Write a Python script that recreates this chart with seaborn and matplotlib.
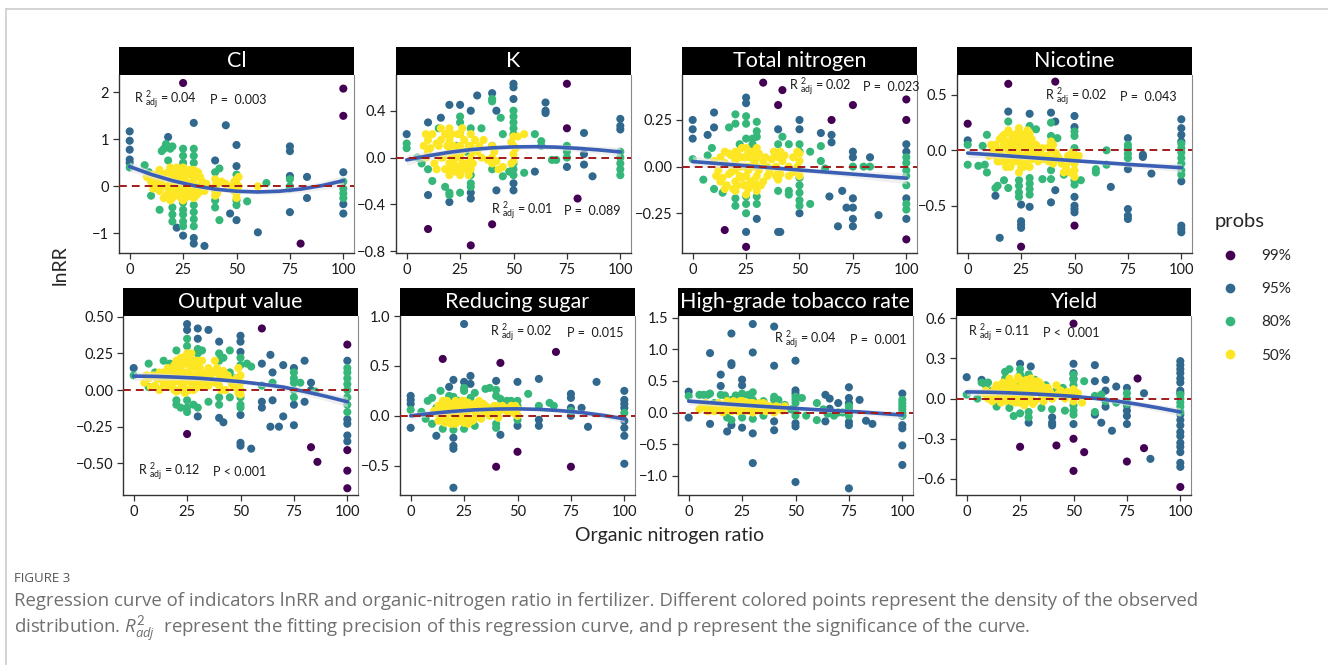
import numpy as np
import pandas as pd
import matplotlib
matplotlib.use("Agg")
import matplotlib.pyplot as plt
from matplotlib.patches import Rectangle
from matplotlib.lines import Line2D
import seaborn as sns

# ---------------- data ----------------
PROB_LEVELS = ["99%", "95%", "80%", "50%"]
PROB_COLORS = ["#440154", "#31688E", "#35B779", "#FDE725"]
X_TICKS = [0, 25, 50, 75, 100]
CURVE_X = [0, 10, 20, 30, 40, 50, 60, 70, 80, 90, 100]

TITLES = ["Cl", "K", "Total nitrogen", "Nicotine",
          "Output value", "Reducing sugar", "High-grade tobacco rate", "Yield"]
R2_TEXT = ["0.04", "0.01", "0.02", "0.02", "0.12", "0.02", "0.04", "0.11"]
P_TEXT = ["P =  0.003", "P =  0.089", "P =  0.023", "P =  0.043",
          "P < 0.001", "P =  0.015", "P =  0.001", "P <  0.001"]

# --- Cl ---
CL_P99 = [(25, [2.2]), (100, [2.08, 1.5]), (80, [-1.22])]
CL_P95 = [(0, [1.17, 0.97, 0.78, 0.57, 0.5]), (18, [1.05]), (22, [-0.88]), (25, [-1.05]),
          (30, [1.35, -1.1, -1.22]), (35, [-1.27]), (40, [0.55]), (45, [1.3]), (47, [-0.58]),
          (50, [0.88, 0.43, -0.72]), (60, [-0.98]), (75, [0.85, 0.75, 0.22, -0.55]),
          (83, [0.2, -0.25]), (100, [0.3, -0.38, -0.58])]
CL_P80 = [(0, [0.4]), (7, [0.45]), (9, [0.3]), (10, [-0.2]), (14, [0.3, -0.5]), (15, [0.75]),
          (16, [0.8]), (17, [0.9]), (18, [0.55]), (19, [0.8]), (20, [0.85, -0.45, -0.6, -0.75]),
          (25, [0.8, 0.65, 0.5, -0.35, -0.5, -0.6, -0.75, -0.85]),
          (30, [0.8, 0.65, 0.5, -0.4, -0.55, -0.7, -0.85]), (40, [0.3, -0.3, -0.45]),
          (42, [0.38, -0.72]), (50, [0.25, -0.3, -0.4]), (55, [-0.32]), (64, [0.07]),
          (75, [0.15, 0.0, -0.05]), (100, [0.1, -0.05, -0.15, -0.25])]
CL_P50 = [(8, [0.2]), (10, [0.1]), (12, [0.05]), (13, [0.2]), (14, [-0.1]), (15, [0.15]),
          (16, [0.0]), (17, [-0.2]), (18, [0.3]), (19, [0.1]), (20, [0.35, 0.2, 0.05, -0.1, -0.25]),
          (21, [0.15]), (22, [-0.05]), (23, [0.25]), (24, [0.0]),
          (25, [0.4, 0.3, 0.2, 0.1, 0.0, -0.1, -0.2, -0.3]), (26, [0.15]), (27, [-0.15]),
          (28, [0.05]), (29, [0.25]), (30, [0.35, 0.25, 0.15, 0.05, -0.05, -0.15, -0.25]),
          (32, [0.0]), (33, [0.2]), (35, [-0.1]), (40, [0.15, 0.0, -0.1, -0.2]), (45, [0.05]),
          (48, [0.0]), (50, [0.15, 0.05, -0.05, -0.15, -0.25]), (60, [0.0])]
CL_P50_MORE = [(11, [0.25, -0.05]), (14, [0.35, 0.05]), (16, [0.25, -0.25]), (18, [0.0, -0.15]),
               (19, [0.4, -0.3]), (21, [0.3, -0.15, 0.0]), (22, [0.4, 0.2]), (23, [0.1, -0.2]),
               (24, [0.3, -0.25]), (26, [0.35, -0.05, -0.25]), (27, [0.25, 0.05]),
               (28, [0.35, -0.2]), (29, [0.0, -0.1]), (31, [0.2, -0.2]), (32, [0.3, -0.15]),
               (33, [-0.05]), (34, [0.1]), (36, [0.05]), (41, [0.05, -0.15]), (43, [0.1]),
               (49, [0.1, -0.1]), (51, [0.0, 0.2])]
CL_CURVE = [0.42, 0.255, 0.12, 0.015, -0.06, -0.105, -0.12, -0.105, -0.06, 0.015, 0.12]
CL_SE = [0.10, 0.08, 0.06, 0.05, 0.045, 0.045, 0.05, 0.06, 0.07, 0.09, 0.11]
CL_YTICKS = [-1, 0, 1, 2]

# --- K ---
K_P99 = [(75, [0.63, 0.25]), (80, [-0.35]), (10, [-0.61]), (40, [-0.57]), (30, [-0.75])]
K_P95 = [(0, [0.2]), (10, [0.3, -0.32]), (16, [0.34]), (20, [0.45, -0.38]), (25, [0.45]),
         (30, [0.4, -0.3, -0.35]), (33, [0.53]), (40, [0.55]), (42, [0.4, -0.28]),
         (50, [0.63, 0.6, 0.5, -0.22, -0.28]), (60, [-0.12]), (65, [0.47, 0.4, 0.38]),
         (75, [-0.08]), (83, [0.21, 0.03, -0.06]), (87, [-0.16]), (100, [0.33, 0.27, 0.24])]
K_P80 = [(0, [0.12, 0.08]), (5, [0.0]), (7, [-0.05]), (10, [-0.1]), (12, [-0.2]), (15, [0.25]),
         (18, [-0.25]), (20, [-0.3, -0.32]), (23, [0.1]), (25, [0.35, 0.3, 0.2, -0.3]),
         (28, [0.05]), (30, [0.25, -0.15, -0.22, -0.25]), (35, [0.25]),
         (40, [0.5, 0.48, 0.1, -0.1]), (44, [0.34]), (45, [0.2, -0.16]), (48, [-0.12]),
         (50, [0.4, 0.35, 0.3, 0.25, 0.2, -0.05, -0.1, -0.15]), (55, [-0.13]), (60, [0.2]),
         (63, [0.14, 0.1]), (68, [-0.02]), (70, [-0.02]), (75, [0.1, 0.05, 0.0]),
         (100, [0.05, 0.0, -0.05, -0.1, -0.15])]
K_P50 = [(8, [0.1]), (10, [0.15, 0.05]), (12, [0.2]), (13, [-0.05]), (15, [0.1]), (16, [0.15]),
         (17, [0.0]), (18, [0.2, -0.1]), (20, [0.25, 0.15, 0.05, -0.05, -0.15]),
         (22, [0.1, -0.05]), (24, [0.2]), (25, [0.2, 0.1, 0.0, -0.1, -0.15]), (27, [0.15]),
         (28, [-0.05]), (30, [0.2, 0.1, 0.0, -0.1]), (32, [0.15]), (33, [0.05]), (35, [0.0]),
         (40, [0.1, 0.0, -0.05]), (42, [-0.03]), (45, [-0.08]), (50, [0.18, 0.1, 0.03, -0.03]),
         (52, [0.18]), (55, [0.2])]
K_P50_MORE = [(9, [0.2, 0.0]), (11, [0.08]), (14, [0.12, -0.1]), (16, [0.0, 0.25]), (19, [0.1]),
              (21, [0.2, -0.1, 0.0]), (23, [0.0, -0.12]), (24, [0.05, -0.08]),
              (26, [0.25, 0.05, -0.05]), (27, [-0.1]), (29, [0.1, -0.15]), (31, [0.05, -0.05]),
              (34, [0.1]), (36, [0.15]), (38, [-0.02]), (41, [0.05]), (43, [-0.1]),
              (49, [0.13, -0.05]), (51, [0.08])]
K_CURVE = [-0.02, 0.015, 0.045, 0.068, 0.083, 0.091, 0.093, 0.089, 0.079, 0.065, 0.048]
K_SE = [0.045, 0.035, 0.025, 0.02, 0.018, 0.018, 0.02, 0.022, 0.026, 0.032, 0.04]
K_YTICKS = [-0.8, -0.4, 0.0, 0.4]

# --- Total nitrogen ---
TN_P99 = [(33, [0.45]), (42, [0.41]), (40, [0.33]), (75, [0.33]), (65, [0.25]),
          (100, [0.36, 0.25, -0.39]), (15, [-0.34]), (25, [-0.43])]
TN_P95 = [(0, [0.25, 0.2, 0.15]), (7, [0.17]), (10, [0.29, 0.21]), (25, [0.37, 0.34, -0.35]),
          (30, [-0.28]), (40, [0.2, -0.35]), (41, [-0.35]), (50, [0.25, 0.2, -0.25]),
          (60, [0.18]), (64, [-0.16]), (65, [0.17, 0.13]), (68, [-0.32]), (70, [-0.13]),
          (72, [-0.22]), (75, [0.08, 0.05, -0.17, -0.22, -0.28, -0.32]), (83, [0.05]),
          (87, [-0.26]), (100, [0.12, 0.08, -0.17, -0.28])]
TN_P80 = [(0, [0.04]), (5, [-0.07]), (7, [0.06]), (9, [0.1]), (10, [-0.12]), (14, [-0.14]),
          (17, [0.21]), (20, [0.28, 0.23, -0.17, -0.21]), (22, [0.12]),
          (25, [0.27, 0.23, 0.15, -0.16, -0.2, -0.25]), (28, [0.15, 0.12]),
          (30, [0.24, 0.19, 0.16, -0.16, -0.2]), (40, [0.12, 0.06, -0.13]), (42, [0.16]),
          (45, [0.12, -0.13, -0.15]), (50, [0.12, 0.08, -0.06, -0.1, -0.14, -0.18, -0.21]),
          (55, [0.08, -0.2]), (60, [0.11, 0.03]), (62, [-0.01]), (75, [0.0]), (80, [0.0]),
          (83, [0.0]), (100, [0.05, 0.02, -0.02, -0.05, -0.1, -0.2, -0.23])]
TN_P50 = [(10, [0.03]), (12, [-0.02]), (13, [0.05]), (14, [-0.06]), (15, [0.02]), (16, [-0.1]),
          (17, [0.07]), (18, [-0.03]), (19, [0.0]), (20, [0.08, 0.03, -0.02, -0.08, -0.13]),
          (22, [0.05, -0.05]), (23, [0.1]), (24, [-0.1]),
          (25, [0.1, 0.05, 0.0, -0.05, -0.1, -0.15]), (27, [0.05, -0.08]), (28, [0.0]),
          (30, [0.1, 0.05, 0.0, -0.05, -0.1, -0.13]), (33, [0.03, -0.08]), (35, [0.0, -0.05]),
          (38, [0.08]), (40, [0.05, -0.02, -0.07]), (42, [0.03]), (45, [0.0, -0.05]),
          (50, [0.07, 0.03, -0.02, -0.05])]
TN_P50_MORE = [(11, [-0.05]), (13, [-0.08]), (15, [0.08, -0.12]), (17, [-0.04]), (18, [0.06]),
               (19, [-0.12]), (21, [0.0, 0.07, -0.1]), (23, [0.0, -0.06]), (24, [0.05]),
               (26, [0.07, -0.02, -0.12]), (27, [0.0]), (28, [0.08, -0.1]), (29, [0.03, -0.07]),
               (31, [0.07, -0.02]), (32, [-0.1]), (34, [0.05]), (36, [-0.03]), (37, [0.04]),
               (39, [0.0, -0.05]), (41, [0.08, -0.04]), (43, [0.06]), (47, [0.05, -0.03]),
               (49, [0.08, 0.0])]
TN_CURVE = [0.027, 0.018, 0.009, 0.0, -0.009, -0.018, -0.027, -0.036, -0.045, -0.054, -0.062]
TN_SE = [0.03, 0.025, 0.018, 0.014, 0.012, 0.012, 0.013, 0.016, 0.02, 0.025, 0.03]
TN_YTICKS = [-0.25, 0.0, 0.25]

# --- Nicotine ---
NIC_P99 = [(0, [0.24]), (19, [0.6]), (41, [0.62]), (25, [-0.87]), (50, [-0.68])]
NIC_P95 = [(0, [0.09]), (13, [-0.41]), (15, [-0.79]), (19, [0.35]),
           (25, [-0.49, -0.64, -0.67, -0.7]), (29, [0.33, -0.51]), (39, [0.34, -0.47]),
           (41, [0.26, -0.36]), (50, [0.31, 0.21, -0.42, -0.5, -0.53, -0.56]), (67, [-0.33]),
           (75, [0.11, -0.17, -0.53, -0.59, -0.62]), (82, [-0.04, -0.06]), (86, [-0.21]),
           (100, [0.28, 0.2, 0.14, 0.08, -0.28, -0.68, -0.71, -0.74])]
NIC_P80 = [(0, [0.05, -0.13]), (5, [-0.14]), (7, [0.04]), (8, [-0.13]), (9, [0.14, -0.2]),
           (13, [-0.34]), (14, [-0.32]), (17, [-0.27]), (19, [0.26, -0.34]),
           (24, [-0.27, -0.32, -0.38, -0.42]), (29, [0.22, -0.25, -0.3, -0.35, -0.4]),
           (32, [0.19]), (35, [-0.26]), (39, [0.25, 0.13, -0.18, -0.26]), (42, [0.11]),
           (45, [-0.22]), (50, [0.17, 0.13, 0.02, -0.27, -0.31]), (53, [-0.27]),
           (60, [-0.17, -0.2]), (65, [0.0, -0.13]), (75, [0.05, 0.02, -0.03, -0.07]),
           (100, [0.06, 0.02, -0.02, -0.07, -0.12, -0.18, -0.22])]
NIC_P50 = [(10, [-0.05]), (12, [0.0]), (13, [0.05]), (14, [-0.1]), (15, [0.1]), (16, [-0.05]),
           (17, [0.14]), (18, [-0.15]), (19, [0.0]), (20, [0.15, 0.05, -0.05, -0.15]),
           (22, [0.1, -0.1]), (24, [0.2, 0.1, 0.0, -0.1, -0.2]), (26, [0.05]), (27, [-0.05]),
           (29, [0.15, 0.05, -0.05, -0.15]), (31, [0.0]), (33, [-0.1]), (35, [0.02]),
           (37, [-0.05]), (39, [0.08, 0.0, -0.08]), (42, [-0.05]), (44, [-0.12]), (45, [-0.2]),
           (47, [-0.05]), (50, [-0.05, -0.12, -0.18, -0.24]), (52, [-0.05])]
NIC_P50_MORE = [(11, [0.05]), (13, [-0.05]), (15, [0.0, -0.1]), (16, [0.12]),
                (17, [0.05, -0.1]), (18, [0.08]), (19, [-0.08, 0.18]), (21, [0.0, 0.1, -0.1]),
                (23, [0.05, -0.05, 0.15]), (25, [0.15, 0.05, -0.05, -0.15]), (26, [-0.15, 0.12]),
                (27, [0.1, -0.12]), (28, [0.0, 0.18]), (30, [0.1, -0.08]), (32, [0.05, -0.05]),
                (34, [-0.02]), (36, [-0.08]), (38, [0.03, -0.1]), (40, [0.05, -0.12]),
                (41, [-0.02]), (43, [-0.08]), (46, [-0.15]), (48, [-0.1, -0.2]), (49, [-0.02])]
NIC_CURVE = [-0.025, -0.038, -0.052, -0.066, -0.08, -0.094, -0.107, -0.12, -0.133, -0.145, -0.157]
NIC_SE = [0.04, 0.03, 0.022, 0.018, 0.015, 0.015, 0.016, 0.02, 0.025, 0.03, 0.038]
NIC_YTICKS = [-0.5, 0.0, 0.5]

# --- Output value ---
OUT_P99 = [(25, [-0.3]), (60, [0.42]), (83, [-0.39]), (86, [-0.49]),
           (100, [0.31, -0.41, -0.55, -0.67])]
OUT_P95 = [(0, [0.15]), (25, [0.45, 0.41]), (30, [0.42, 0.35, -0.18]), (35, [0.41]),
           (40, [0.33, -0.19]), (42, [-0.22]), (50, [0.37, 0.33, 0.26, -0.17, -0.36, -0.38]),
           (55, [-0.4]), (60, [0.18, -0.08, -0.12]), (64, [0.24, -0.25]), (65, [0.12, -0.07]),
           (68, [-0.25]), (70, [0.17, -0.18]), (75, [0.15, -0.1, -0.24]), (80, [0.2, -0.08]),
           (83, [0.05, 0.0]), (100, [0.2, -0.2, -0.23, -0.31, -0.35])]
OUT_P80 = [(0, [0.1]), (7, [0.18, 0.02]), (10, [0.12]), (14, [0.2]), (17, [0.18]),
           (20, [0.27, -0.07, -0.1]), (22, [-0.12]), (25, [0.35, 0.3, -0.07, -0.12, -0.15]),
           (28, [-0.1]), (30, [0.28, 0.25, 0.1, -0.12]), (32, [0.27]), (35, [-0.08]),
           (40, [0.25, 0.2, -0.05, -0.1]), (42, [0.22]), (45, [0.27, 0.12, -0.05]), (47, [0.08]),
           (50, [0.22, 0.17, -0.05, -0.1, -0.12]), (53, [0.18]), (55, [0.16]), (60, [0.03]),
           (65, [0.05]), (75, [0.12, 0.08, 0.05, 0.0, -0.05]), (78, [0.05]), (85, [-0.01]),
           (100, [0.15, 0.12, 0.08, 0.04, 0.0, -0.05, -0.1, -0.15])]
OUT_P50 = [(5, [0.05]), (7, [0.08]), (9, [0.1]), (10, [0.03]), (12, [0.0]), (13, [0.07]),
           (14, [0.12]), (15, [0.03]), (16, [0.15]), (17, [0.05]), (18, [0.1]), (19, [0.0]),
           (20, [0.2, 0.13, 0.06, -0.01]), (22, [0.15, 0.05]), (23, [0.22]), (24, [0.1]),
           (25, [0.25, 0.18, 0.12, 0.06, 0.0]), (27, [0.15, 0.05]), (28, [0.2]), (29, [0.1]),
           (30, [0.2, 0.15, 0.08, 0.02]), (32, [0.12]), (33, [0.05]), (35, [0.15]), (36, [0.08]),
           (38, [0.2]), (40, [0.1, 0.03]), (42, [0.13]), (43, [0.0]), (45, [0.07]), (47, [0.02]),
           (50, [0.1, 0.05, 0.0, -0.03])]
OUT_P50_MORE = [(6, [0.1]), (8, [0.02]), (11, [0.08]), (12, [0.12]), (14, [0.03]), (15, [0.1]),
                (16, [0.06]), (17, [0.13]), (18, [0.02]), (19, [0.17]), (21, [0.1, 0.0, 0.18]),
                (22, [0.22]), (23, [0.03, 0.12]), (24, [0.18, -0.02]), (26, [0.2, 0.08, 0.0]),
                (27, [0.25]), (28, [0.1, 0.0]), (29, [0.18, 0.05]), (31, [0.15, 0.05]),
                (32, [0.2, 0.02]), (34, [0.1]), (35, [0.03]), (37, [0.12]), (38, [0.05]),
                (39, [0.15]), (41, [0.08, 0.0]), (44, [0.1]), (46, [0.04]), (48, [0.08]),
                (49, [0.15, -0.02])]
OUT_CURVE = [0.095, 0.093, 0.088, 0.081, 0.07, 0.057, 0.04, 0.02, -0.01, -0.043, -0.08]
OUT_SE = [0.03, 0.025, 0.02, 0.016, 0.014, 0.014, 0.016, 0.02, 0.024, 0.03, 0.035]
OUT_YTICKS = [-0.5, -0.25, 0.0, 0.25, 0.5]

# --- Reducing sugar ---
RS_P99 = [(15, [0.57]), (42, [0.53]), (68, [0.64]), (40, [-0.51]), (50, [-0.36]), (75, [-0.51])]
RS_P95 = [(0, [0.2, 0.16, 0.12, -0.12]), (12, [-0.2]), (18, [0.29]),
          (20, [0.36, -0.22, -0.3, -0.33, -0.72]), (25, [0.92, 0.34]), (28, [0.4, 0.32]),
          (40, [0.35]), (42, [-0.19]), (50, [0.34, 0.0, -0.1]), (60, [0.37, -0.04, -0.1]),
          (75, [0.22, 0.18, 0.08, 0.0]), (80, [0.08]), (83, [-0.11]), (87, [0.34]),
          (100, [0.25, 0.16, 0.12, 0.08, -0.05, -0.12, -0.2, -0.48])]
RS_P80 = [(0, [0.06]), (5, [0.04]), (7, [-0.03]), (8, [0.15]), (10, [0.18, -0.08]), (12, [0.08]),
          (14, [0.25]), (15, [-0.13]), (18, [0.2]), (20, [0.19, -0.14]), (22, [0.15]),
          (25, [0.28, 0.25, -0.13]), (28, [0.18]), (30, [0.23, -0.1]), (35, [0.27]),
          (37, [0.28]), (40, [0.26, 0.2, -0.08, -0.12]), (42, [0.17]), (45, [0.15]),
          (47, [0.15]), (50, [0.15, 0.1, -0.04]), (55, [0.22]), (60, [0.1]), (65, [0.13]),
          (67, [0.1]), (75, [0.05]), (100, [0.03])]
RS_P50 = [(12, [0.03]), (13, [0.1]), (14, [-0.03]), (15, [0.15]), (16, [-0.07]), (17, [0.05]),
          (18, [0.12]), (19, [-0.08]), (20, [0.1, 0.03, -0.05]), (22, [0.12, -0.03]),
          (24, [0.08]), (25, [0.15, 0.08, 0.0, -0.07]), (27, [0.05]), (28, [-0.05]),
          (30, [0.12, 0.05, -0.02]), (32, [0.08]), (33, [-0.03]), (35, [0.1, 0.03]),
          (38, [0.05]), (40, [0.1, 0.02]), (42, [0.05]), (44, [0.08]), (46, [0.03]),
          (48, [0.05]), (50, [0.07, 0.0])]
RS_P50_MORE = [(11, [0.05]), (13, [-0.05]), (15, [0.08, 0.0]), (16, [0.1]), (17, [-0.05, 0.15]),
               (18, [0.02]), (19, [0.1]), (21, [0.05, -0.08, 0.15]), (23, [0.08, -0.05]),
               (24, [0.15, 0.0]), (26, [0.1, -0.03]), (27, [0.13, -0.08]), (28, [0.08]),
               (29, [0.1, -0.05]), (31, [0.08, 0.0]), (32, [0.15]), (34, [0.05, 0.12]),
               (36, [0.08]), (37, [0.0]), (39, [0.1]), (41, [0.06, -0.02]), (43, [0.1]),
               (45, [0.05]), (47, [0.1]), (49, [0.02, 0.1])]
RS_CURVE = [0.0, 0.025, 0.045, 0.06, 0.068, 0.07, 0.065, 0.052, 0.033, 0.005, -0.03]
RS_SE = [0.035, 0.027, 0.02, 0.016, 0.014, 0.014, 0.016, 0.02, 0.025, 0.03, 0.038]
RS_YTICKS = [-0.5, 0.0, 0.5, 1.0]

# --- High-grade tobacco rate ---
HG_P99 = []
HG_P95 = [(0, [0.33, -0.08]), (10, [0.94, -0.18]), (15, [0.6, 0.42]), (18, [-0.3]),
          (20, [1.25, 0.78, 0.75, -0.2]), (25, [0.52, 0.43, -0.24]), (30, [1.4, 0.95, -0.33, -0.8]),
          (40, [1.36, 0.74, -0.14, -0.28]), (50, [0.82, 0.35, 0.3, -0.17, -0.22, -1.1]),
          (64, [0.28, -0.14]), (66, [0.22, 0.06]), (70, [0.15]),
          (75, [0.4, 0.23, 0.15, -0.15, -0.2, -1.2]), (80, [0.2]), (83, [-0.13]), (86, [-0.18]),
          (100, [0.3, -0.05, -0.2, -0.25, -0.52, -0.83])]
HG_P80 = [(0, [0.26]), (5, [0.28]), (7, [0.28]), (9, [0.28]), (10, [0.3]), (12, [0.15]),
          (15, [0.28]), (17, [0.27]), (18, [-0.08]), (20, [0.2, 0.15, -0.12]), (22, [0.27]),
          (25, [0.3, 0.25, 0.2, -0.08]), (28, [0.28]), (30, [0.32, 0.2, -0.1]), (35, [-0.05, 0.18]),
          (40, [0.25, 0.2]), (42, [0.2]), (45, [0.12]), (48, [0.05]),
          (50, [0.25, 0.2, 0.15, 0.0, -0.05]), (53, [0.23]), (55, [-0.05]), (60, [0.15, -0.12]),
          (63, [0.05]), (65, [-0.02]), (68, [-0.05]), (70, [0.0]), (72, [0.0]),
          (75, [0.1, 0.05, 0.0, -0.05]), (100, [0.2, 0.15, 0.1, 0.05, 0.0, -0.05])]
HG_P50 = [(5, [0.05]), (7, [0.1]), (8, [0.15]), (10, [0.05]), (12, [0.02]), (13, [0.1]),
          (14, [0.15]), (15, [0.05]), (16, [0.0]), (17, [0.12]), (18, [0.05]), (19, [0.15]),
          (20, [0.08, 0.02]), (22, [0.12, 0.05]), (24, [0.18]), (25, [0.13, 0.08, 0.03]),
          (26, [0.17]), (27, [0.1]), (28, [0.03]), (29, [0.15]), (30, [0.1, 0.05, 0.0]),
          (32, [0.12]), (33, [0.05]), (35, [0.1, 0.15]), (37, [0.05]), (38, [0.1]),
          (40, [0.05, 0.0]), (42, [0.08]), (44, [0.03]), (45, [0.1])]
HG_P50_MORE = [(6, [0.08]), (9, [0.1, 0.02]), (11, [0.12]), (12, [0.08]), (14, [0.05]),
               (15, [0.12]), (16, [0.1]), (17, [0.03]), (18, [0.18]), (19, [0.08]),
               (20, [0.15, 0.12]), (21, [0.05, 0.18]), (23, [0.1, 0.02]), (24, [0.05]),
               (25, [0.18]), (26, [0.07]), (27, [0.03, 0.15]), (28, [0.12]), (29, [0.05]),
               (30, [0.15]), (31, [0.08]), (32, [0.03]), (33, [0.15]), (34, [0.08]),
               (36, [0.12, 0.02]), (39, [0.05]), (41, [0.1]), (43, [0.05])]
HG_CURVE = [0.18, 0.155, 0.13, 0.107, 0.085, 0.065, 0.045, 0.027, 0.01, -0.015, -0.04]
HG_SE = [0.06, 0.05, 0.04, 0.032, 0.028, 0.028, 0.03, 0.035, 0.042, 0.05, 0.06]
HG_YTICKS = [-1.0, -0.5, 0.0, 0.5, 1.0, 1.5]

# --- Yield ---
YD_P99 = [(50, [0.56, -0.3, -0.54]), (80, [0.15]), (25, [-0.36]), (42, [-0.35]), (55, [-0.4]),
          (75, [-0.47]), (83, [-0.37]), (100, [-0.66])]
YD_P95 = [(0, [0.16]), (7, [0.14]), (25, [0.26]), (30, [0.24]), (29, [-0.18]),
          (40, [-0.14, -0.18, -0.2]), (50, [0.26, 0.19, 0.15, -0.19]), (60, [0.25, 0.13, -0.12]),
          (63, [-0.18]), (65, [0.14, 0.06, -0.06]), (68, [-0.24]), (70, [0.09]),
          (75, [0.08, -0.05, -0.09, -0.13, -0.19]), (83, [0.04]), (86, [-0.45]),
          (100, [0.28, 0.25, 0.22, 0.19, 0.15, 0.12, 0.06, 0.04, -0.12, -0.16, -0.2, -0.25,
                 -0.28, -0.33, -0.36, -0.4, -0.48, -0.51])]
YD_P80 = [(0, [0.03]), (5, [0.0]), (7, [0.12]), (9, [0.1]), (10, [0.12]), (12, [0.06]),
          (14, [-0.06]), (18, [0.2, 0.15]), (20, [0.22, -0.07]), (22, [-0.13]), (24, [0.1]),
          (25, [0.22, 0.18, -0.11]), (28, [0.15]), (29, [0.18, -0.1, -0.14]), (32, [0.14]),
          (35, [-0.07]), (37, [0.1]), (38, [0.06]), (40, [0.03, -0.08]), (42, [0.06]),
          (45, [0.08]), (46, [-0.09]), (50, [0.18, 0.14, 0.1, 0.06, -0.05, -0.09, -0.12]),
          (55, [0.13]), (60, [0.02, -0.1]), (63, [0.03]), (65, [-0.02]), (70, [-0.03]),
          (75, [0.04, 0.0, -0.04]), (100, [0.03, 0.0, -0.03, -0.06, -0.1])]
YD_P50 = [(8, [0.04]), (10, [0.0]), (12, [0.02]), (13, [0.07]), (15, [0.0]), (16, [0.1]),
          (17, [0.04]), (18, [-0.02]), (19, [0.1]), (20, [0.05, 0.0]), (21, [0.12]), (22, [0.06]),
          (23, [-0.03]), (25, [0.14, 0.08, 0.02, -0.03]), (27, [0.1, 0.04]), (28, [-0.02]),
          (30, [0.12, 0.07, 0.02]), (31, [-0.04]), (32, [0.1]), (33, [0.05]), (34, [0.12]),
          (35, [0.0]), (37, [0.08]), (38, [0.03]), (40, [0.0]), (42, [0.1]), (43, [0.04]),
          (45, [0.02]), (47, [0.05]), (50, [0.03, -0.02]), (52, [0.04]), (54, [-0.03])]
YD_P50_MORE = [(9, [0.06]), (11, [0.04]), (12, [-0.02]), (14, [0.1, 0.02]), (15, [0.06]),
               (16, [-0.03]), (17, [0.12]), (18, [0.06]), (19, [0.02]), (20, [0.15, 0.1]),
               (21, [-0.02, 0.05]), (22, [0.12, 0.0]), (23, [0.08]), (24, [0.04, 0.16]),
               (26, [0.12, 0.0, 0.06]), (27, [-0.05]), (28, [0.14, 0.07]), (29, [0.04]),
               (30, [0.15, -0.02]), (31, [0.1]), (32, [0.05, -0.02]), (33, [0.13]), (34, [0.07]),
               (35, [0.1, 0.04]), (36, [-0.02]), (38, [0.08]), (39, [0.05]), (41, [0.02]),
               (44, [0.06]), (46, [0.0]), (48, [0.03]), (50, [0.07])]
YD_CURVE = [0.05, 0.048, 0.043, 0.036, 0.027, 0.017, 0.002, -0.018, -0.042, -0.07, -0.1]
YD_SE = [0.03, 0.024, 0.018, 0.015, 0.013, 0.013, 0.015, 0.018, 0.022, 0.027, 0.032]
YD_YTICKS = [-0.6, -0.3, 0.0, 0.3, 0.6]

# ---------------- helpers ----------------
def panel_frame(groups_by_level):
    rows = []
    for level, groups in zip(PROB_LEVELS, groups_by_level):
        for x, ys in groups:
            for y in ys:
                rows.append((x, y, level))
    return pd.DataFrame(rows, columns=["ratio", "lnRR", "probs"])

PANEL_DATA = [
    (CL_P99, CL_P95, CL_P80, CL_P50 + CL_P50_MORE),
    (K_P99, K_P95, K_P80, K_P50 + K_P50_MORE),
    (TN_P99, TN_P95, TN_P80, TN_P50 + TN_P50_MORE),
    (NIC_P99, NIC_P95, NIC_P80, NIC_P50 + NIC_P50_MORE),
    (OUT_P99, OUT_P95, OUT_P80, OUT_P50 + OUT_P50_MORE),
    (RS_P99, RS_P95, RS_P80, RS_P50 + RS_P50_MORE),
    (HG_P99, HG_P95, HG_P80, HG_P50 + HG_P50_MORE),
    (YD_P99, YD_P95, YD_P80, YD_P50 + YD_P50_MORE),
]
CURVES = [CL_CURVE, K_CURVE, TN_CURVE, NIC_CURVE, OUT_CURVE, RS_CURVE, HG_CURVE, YD_CURVE]
SES = [CL_SE, K_SE, TN_SE, NIC_SE, OUT_SE, RS_SE, HG_SE, YD_SE]
YTICKS = [CL_YTICKS, K_YTICKS, TN_YTICKS, NIC_YTICKS, OUT_YTICKS, RS_YTICKS, HG_YTICKS, YD_YTICKS]
TICK_DEC = [0, 1, 2, 1, 2, 1, 1, 1]

# layout (pixels): left, top, width, height
W, H = 1328, 665
BOXES = [(119, 75, 235, 178), (396, 75, 235, 178), (682, 75, 235, 178), (957, 75, 235, 178),
         (123, 316, 235, 179), (400, 316, 235, 179), (678, 316, 235, 179), (956, 316, 235, 179)]
YLIMS = [(-1.42, 2.37), (-0.815, 0.705), (-0.463, 0.491), (-0.927, 0.68),
         (-0.716, 0.505), (-0.793, 1.0), (-1.305, 1.527), (-0.72, 0.617)]
# annotation positions (axes fraction): R x, P x, y
ANNOT = [(0.064, 0.387, 0.86), (0.403, 0.715, 0.238), (0.455, 0.770, 0.934), (0.374, 0.694, 0.876),
         (0.064, 0.383, 0.130), (0.383, 0.709, 0.907), (0.409, 0.732, 0.866), (0.050, 0.370, 0.903)]

# ---------------- style ----------------
sns.set_style("ticks")
plt.rcParams["font.family"] = ["Lato", "DejaVu Sans"]
plt.rcParams["mathtext.fontset"] = "custom"
plt.rcParams["mathtext.rm"] = "Lato"
plt.rcParams["mathtext.it"] = "Open Sans:italic"
plt.rcParams["axes.unicode_minus"] = True

fig = plt.figure(figsize=(W / 100, H / 100), dpi=100)
palette = dict(zip(PROB_LEVELS, PROB_COLORS))

for i in range(8):
    l, t, w, h = BOXES[i]
    ax = fig.add_axes([l / W, 1 - (t + h) / H, w / W, h / H])
    df = panel_frame(PANEL_DATA[i])
    sns.scatterplot(data=df, x="ratio", y="lnRR", hue="probs", hue_order=PROB_LEVELS,
                    palette=palette, s=34, edgecolor="none", linewidth=0, legend=False,
                    ax=ax, zorder=2)
    cy = np.array(CURVES[i]); se = np.array(SES[i])
    ax.fill_between(CURVE_X, cy - se, cy + se, color="#e6e6e6", alpha=0.6, lw=0, zorder=3)
    sns.lineplot(x=CURVE_X, y=CURVES[i], color="#3A5FB4", lw=2.6, ax=ax,
                 estimator=None, sort=False, zorder=4)
    ax.axhline(0, color="#A01C1C", lw=1.4, ls=(0, (4, 2.6)), zorder=5)

    ax.set_xlim(-5, 105)
    ax.set_ylim(*YLIMS[i])
    ax.set_xticks(X_TICKS)
    ax.set_xticklabels([str(v) for v in X_TICKS])
    ax.set_yticks(YTICKS[i])
    ax.set_yticklabels([f"{v:.{TICK_DEC[i]}f}".replace("-", "\u2212") for v in YTICKS[i]])
    ax.tick_params(axis="both", labelsize=10.5, length=4, width=0.9, color="#333333",
                   labelcolor="#1a1a1a", pad=3)
    ax.set_xlabel(""); ax.set_ylabel("")
    for s in ["left", "bottom"]:
        ax.spines[s].set_color("#333333"); ax.spines[s].set_linewidth(1.0)
    ax.spines["right"].set_visible(True); ax.spines["right"].set_color("#888888")
    ax.spines["right"].set_linewidth(0.8)
    ax.spines["top"].set_visible(False)

    sh = 28 / h
    ax.add_patch(Rectangle((0, 1), 1, sh, transform=ax.transAxes, facecolor="black",
                           edgecolor="none", clip_on=False, zorder=6))
    ax.text(0.5, 1 + sh / 2, TITLES[i], transform=ax.transAxes, color="white", fontsize=15.5,
            ha="center", va="center", zorder=7)

    rx, px, ay = ANNOT[i]
    ax.text(rx, ay, "R $^{2}_{\\mathrm{adj}}$ = " + R2_TEXT[i], transform=ax.transAxes,
            fontsize=9, ha="left", va="center", color="#1a1a1a", zorder=8)
    ax.text(px, ay, P_TEXT[i], transform=ax.transAxes, fontsize=9, ha="left", va="center",
            color="#1a1a1a", zorder=8)

fig.text(60 / W, 1 - 265 / H, "lnRR", rotation=90, fontsize=14, ha="center", va="center")
fig.text(670 / W, 1 - 535 / H, "Organic nitrogen ratio", fontsize=14, ha="center", va="center")

handles = [Line2D([], [], marker="o", ls="", markersize=7, markerfacecolor=c,
                  markeredgecolor="none") for c in PROB_COLORS]
leg = fig.legend(handles, PROB_LEVELS, title="probs", loc="upper left",
                 bbox_to_anchor=(1209 / W, 1 - 207 / H), frameon=False, fontsize=11,
                 title_fontsize=14.5, labelspacing=1.25, handletextpad=1.0,
                 alignment="left", borderaxespad=0)

# caption
fig.text(14 / W, 1 - 578 / H, "FIGURE 3", fontsize=9.5, color="#555555", va="center",
         family="Open Sans")
fig.text(14 / W, 1 - 601 / H,
         "Regression curve of indicators lnRR and organic-nitrogen ratio in fertilizer. "
         "Different colored points represent the density of the observed",
         fontsize=13.4, color="#6f6f6f", va="center", family="Open Sans")
fig.text(14 / W, 1 - 628 / H,
         "distribution. $R^{2}_{adj}$  represent the fitting precision of this regression curve, "
         "and p represent the significance of the curve.",
         fontsize=13.4, color="#6f6f6f", va="center", family="Open Sans")

# page frame
fig.add_artist(Line2D([6 / W, 1], [1 - 9 / H, 1 - 9 / H], color="#cccccc", lw=1.2,
                      transform=fig.transFigure))
fig.add_artist(Line2D([6 / W, 6 / W], [0, 1 - 9 / H], color="#cccccc", lw=1.2,
                      transform=fig.transFigure))

fig.savefig("out.png", dpi=100)
